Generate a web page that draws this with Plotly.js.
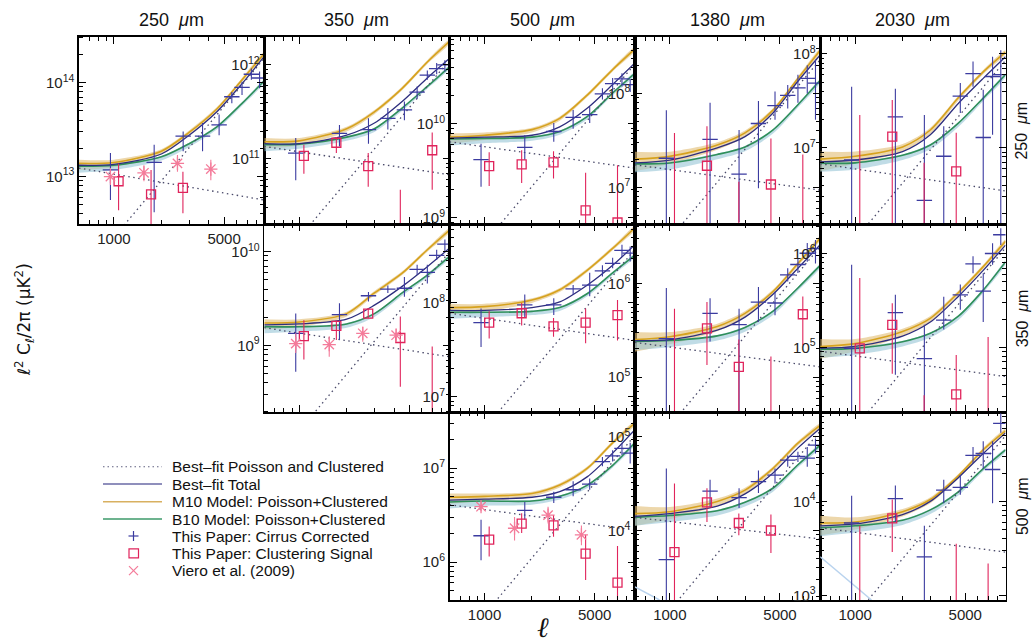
<!DOCTYPE html>
<html><head><meta charset="utf-8">
<script src="https://cdn.plot.ly/plotly-3.0.1.min.js"></script>
<style>html,body{margin:0;padding:0;background:#fff}#chart{width:1036px;height:643px}</style>
</head><body><div id="chart"></div>
<script>
// ---------- multipole grids (ell) ----------
const L_MODEL  = [600, 1000, 2000, 3000, 4500, 6500, 9000];
const L_CIRRUS = [950, 1800, 2750, 3650, 4650, 5600, 6500, 7450, 8400];
const L_SIGNAL = [1070, 1720, 2740, 4380, 6980];
const L_VIERO  = [950, 1550, 2530, 4120];
const L_ENDS   = [600, 9000];

// ---------- values, stored as log10 of l^2 C_l / 2pi (uK^2) ----------
// 250 x 250
const tot_250x250 = [13.12, 13.13, 13.24, 13.44, 13.69, 13.99, 14.28];
const m10_250x250 = [13.14, 13.15, 13.27, 13.47, 13.72, 14.03, 14.31];
const b10_250x250 = [13.11, 13.12, 13.21, 13.35, 13.53, 13.78, 14.02];
const poi_250x250 = [11.91, 14.26];
const clu_250x250 = [13.09, 12.75];
const cir_250x250   = [13.07, 13.15, 13.43, 13.43, 13.55, 13.85, 13.95, 14.09, 14.05];
const cirHi_250x250 = [13.25, 13.34, 13.48, 13.57, 13.66, 13.90, 14.01, 14.15, 14.12];
const cirLo_250x250 = [12.75, 12.62, 13.27, 13.27, 13.44, 13.78, 13.87, 14.03, 13.94];
const sig_250x250   = [12.95, 12.81, 12.88, null, null];
const sigHi_250x250 = [13.14, 13.07, 13.05, null, null];
const sigLo_250x250 = [12.64, 12.30, 12.61, null, null];
const vie_250x250   = [13.00, 13.04, 13.14, 13.08];
const vieHi_250x250 = [13.09, 13.12, 13.23, 13.18];
const vieLo_250x250 = [12.91, 12.95, 13.05, 12.96];
// 350 x 250
const tot_350x250 = [11.16, 11.16, 11.25, 11.38, 11.61, 11.86, 12.07];
const m10_350x250 = [11.18, 11.19, 11.32, 11.50, 11.75, 12.03, 12.25];
const b10_350x250 = [11.15, 11.155, 11.23, 11.32, 11.54, 11.77, 11.98];
const poi_350x250 = [9.72, 12.05];
const clu_350x250 = [11.13, 10.83];
const cir_350x250   = [11.06, 11.27, 11.31, 11.43, 11.52, 11.71, 11.89, 11.96, 12.00];
const cirHi_350x250 = [11.22, 11.36, 11.43, 11.54, 11.61, 11.77, 11.94, 12.02, 12.05];
const cirLo_350x250 = [10.77, 11.13, 11.16, 11.31, 11.41, 11.64, 11.84, 11.90, 11.93];
const sig_350x250   = [11.03, 11.17, 10.92, 10.10, 11.09];
const sigHi_350x250 = [11.15, 11.23, 11.06, 10.67, 11.28];
const sigLo_350x250 = [10.84, 11.06, 10.70, 9.90, 10.67];
// 500 x 250
const tot_500x250 = [9.85, 9.86, 9.88, 9.97, 10.17, 10.42, 10.65];
const m10_500x250 = [9.86, 9.88, 9.94, 10.06, 10.31, 10.58, 10.80];
const b10_500x250 = [9.84, 9.845, 9.86, 9.92, 10.08, 10.33, 10.54];
const poi_500x250 = [8.29, 10.64];
const clu_500x250 = [9.81, 9.53];
const cir_500x250   = [9.62, 9.75, 9.92, 10.07, 10.10, 10.32, 10.43, 10.48, 10.42];
const cirHi_500x250 = [9.79, 9.88, 10.01, 10.15, 10.18, 10.38, 10.49, 10.54, 10.48];
const cirLo_500x250 = [9.33, 9.62, 9.81, 9.95, 10.01, 10.26, 10.37, 10.40, 10.34];
const sig_500x250   = [9.55, 9.57, 9.59, 9.08, 8.95];
const sigHi_500x250 = [9.70, 9.72, 9.71, 9.48, 9.56];
const sigLo_500x250 = [9.34, 9.37, 9.42, 8.70, 8.60];
// 1380 x 250
const tot_1380x250 = [7.26, 7.29, 7.42, 7.54, 7.79, 8.13, 8.41];
const m10_1380x250 = [7.30, 7.33, 7.45, 7.58, 7.82, 8.16, 8.46];
const b10_1380x250 = [7.25, 7.26, 7.35, 7.43, 7.61, 7.88, 8.14];
const poi_1380x250 = [6.01, 8.36];
const clu_1380x250 = [7.24, 6.97];
const cir_1380x250   = [7.31, 7.51, 7.14, 7.68, 7.87, 7.98, 8.06, 8.16, 8.11];
const cirHi_1380x250 = [7.82, 7.90, 7.61, 7.92, 8.02, 8.09, 8.20, 8.30, 8.36];
const cirLo_1380x250 = [6.40, 6.62, 6.63, 6.99, 7.72, 7.84, 7.90, 8.00, 7.72];
const sig_1380x250   = [6.40, 7.23, 6.40, 7.03, 6.40];
const sigHi_1380x250 = [7.58, 7.65, 7.06, 7.52, 7.35];
const sigLo_1380x250 = [6.20, 6.55, 6.20, 6.20, 6.20];
// 2030 x 250
const tot_2030x250 = [6.85, 6.87, 6.96, 7.14, 7.47, 7.74, 7.97];
const m10_2030x250 = [6.88, 6.91, 7.01, 7.19, 7.53, 7.81, 8.02];
const b10_2030x250 = [6.835, 6.84, 6.92, 7.03, 7.26, 7.53, 7.78];
const poi_2030x250 = [5.58, 7.93];
const clu_2030x250 = [6.83, 6.54];
const cir_2030x250   = [6.87, 7.33, 6.44, 6.91, 7.55, 7.79, 7.11, 7.76, 7.78];
const cirHi_2030x250 = [7.65, 7.63, 7.35, 7.23, 7.69, 7.92, 7.62, 7.97, 8.04];
const cirLo_2030x250 = [6.00, 6.00, 6.00, 6.00, 7.37, 7.65, 6.00, 7.14, 6.00];
const sig_2030x250   = [6.00, 7.12, 6.00, 6.75, null];
const sigHi_2030x250 = [7.35, 7.51, 6.84, 7.16, null];
const sigLo_2030x250 = [5.80, 6.00, 5.80, 6.00, null];
// 350 x 350
const tot_350x350 = [9.22, 9.23, 9.28, 9.43, 9.63, 9.84, 10.04];
const m10_350x350 = [9.24, 9.25, 9.34, 9.56, 9.77, 10.02, 10.23];
const b10_350x350 = [9.20, 9.20, 9.23, 9.34, 9.56, 9.75, 9.95];
const poi_350x350 = [7.65, 10.00];
const clu_350x350 = [9.19, 8.88];
const cir_350x350   = [9.13, 9.33, 9.53, 9.60, 9.61, 9.81, 9.78, 9.96, 10.08];
const cirHi_350x350 = [9.34, 9.45, 9.57, 9.64, 9.73, 9.86, 9.86, 10.02, 10.13];
const cirLo_350x350 = [8.72, 9.06, 9.47, 9.56, 9.52, 9.75, 9.66, 9.91, 10.00];
const sig_350x350   = [9.10, 9.21, 9.34, 9.08, 8.10];
const sigHi_350x350 = [9.27, 9.27, 9.40, 9.31, 8.99];
const sigLo_350x350 = [8.85, 9.06, 9.29, 8.56, 7.90];
const vie_350x350   = [9.02, 9.01, 9.13, 9.11];
const vieHi_350x350 = [9.13, 9.10, 9.20, 9.18];
const vieLo_350x350 = [8.92, 8.88, 9.04, 9.04];
// 500 x 350
const tot_500x350 = [7.92, 7.92, 7.95, 8.01, 8.19, 8.40, 8.62];
const m10_500x350 = [7.95, 7.96, 8.03, 8.14, 8.35, 8.58, 8.80];
const b10_500x350 = [7.90, 7.90, 7.91, 7.95, 8.10, 8.32, 8.51];
const poi_500x350 = [6.22, 8.57];
const clu_500x350 = [7.89, 7.60];
const cir_500x350   = [7.79, 7.98, 7.98, 8.15, 8.19, 8.34, 8.42, 8.56, 8.53];
const cirHi_500x350 = [7.94, 8.09, 8.05, 8.19, 8.32, 8.40, 8.48, 8.62, 8.60];
const cirLo_500x350 = [7.53, 7.84, 7.87, 8.09, 8.07, 8.28, 8.37, 8.49, 8.44];
const sig_500x350   = [7.79, 7.89, 7.75, 7.79, 7.87];
const sigHi_500x350 = [7.91, 8.00, 7.84, 7.94, 8.03];
const sigLo_500x350 = [7.62, 7.76, 7.64, 7.57, 7.60];
// 1380 x 350
const tot_1380x350 = [5.39, 5.40, 5.50, 5.64, 5.88, 6.16, 6.41];
const m10_1380x350 = [5.40, 5.43, 5.54, 5.68, 5.91, 6.21, 6.48];
const b10_1380x350 = [5.38, 5.39, 5.44, 5.53, 5.70, 5.95, 6.19];
const poi_1380x350 = [4.04, 6.39];
const clu_1380x350 = [5.37, 5.11];
const cir_1380x350   = [5.41, 5.68, 5.56, 5.80, 5.79, 6.09, 6.20, 6.32, 6.37];
const cirHi_1380x350 = [5.95, 5.84, 5.73, 5.96, 5.91, 6.16, 6.27, 6.43, 6.46];
const cirLo_1380x350 = [4.40, 5.38, 4.40, 5.59, 5.66, 6.02, 6.11, 6.23, 6.21];
const sig_1380x350   = [4.40, 5.52, 5.11, 4.40, 5.67];
const sigHi_1380x350 = [5.73, 5.80, 5.40, 5.22, 5.86];
const sigLo_1380x350 = [4.20, 5.13, 4.40, 4.20, 5.34];
// 2030 x 350
const tot_2030x350 = [4.99, 5.01, 5.12, 5.27, 5.54, 5.82, 6.09];
const m10_2030x350 = [5.01, 5.04, 5.17, 5.31, 5.58, 5.86, 6.13];
const b10_2030x350 = [4.98, 4.99, 5.06, 5.15, 5.33, 5.61, 5.91];
const poi_2030x350 = [3.70, 6.06];
const clu_2030x350 = [4.96, 4.69];
const cir_2030x350   = [4.99, 5.37, 4.88, 5.29, 5.56, 5.89, 5.60, 6.00, 6.20];
const cirHi_2030x350 = [5.88, 5.56, 5.24, 5.54, 5.67, 5.97, 5.79, 6.11, 6.27];
const cirLo_2030x350 = [4.00, 4.71, 4.00, 5.19, 5.40, 5.79, 5.27, 5.88, 6.09];
const sig_2030x350   = [4.99, 5.24, 4.10, 4.50, 4.10];
const sigHi_2030x350 = [5.74, 5.47, 4.49, 4.92, 5.11];
const sigLo_2030x350 = [4.00, 4.72, 3.90, 4.00, 3.90];
// 500 x 500
const tot_500x500 = [6.66, 6.67, 6.69, 6.75, 6.91, 7.16, 7.41];
const m10_500x500 = [6.69, 6.70, 6.73, 6.82, 7.00, 7.27, 7.48];
const b10_500x500 = [6.64, 6.65, 6.65, 6.70, 6.82, 7.03, 7.27];
const poi_500x500 = [5.00, 7.35];
const clu_500x500 = [6.61, 6.34];
const cir_500x500   = [6.28, 6.55, 6.69, 6.77, 6.83, 7.07, 7.13, 7.21, 7.16];
const cirHi_500x500 = [6.45, 6.64, 6.75, 6.86, 6.89, 7.12, 7.19, 7.27, 7.27];
const cirLo_500x500 = [6.02, 6.45, 6.63, 6.70, 6.77, 7.02, 7.07, 7.14, 7.05];
const sig_500x500   = [6.24, 6.41, 6.39, 6.09, 5.78];
const sigHi_500x500 = [6.38, 6.52, 6.50, 6.29, 6.17];
const sigLo_500x500 = [6.06, 6.31, 6.27, 5.81, 5.40];
const vie_500x500   = [6.59, 6.36, 6.50, 6.29];
const vieHi_500x500 = [6.64, 6.48, 6.59, 6.39];
const vieLo_500x500 = [6.54, 6.23, 6.41, 6.18];
// 1380 x 500
const tot_1380x500 = [4.15, 4.18, 4.26, 4.39, 4.61, 4.88, 5.09];
const m10_1380x500 = [4.18, 4.20, 4.31, 4.43, 4.66, 4.93, 5.12];
const b10_1380x500 = [4.14, 4.16, 4.21, 4.30, 4.45, 4.70, 4.91];
const poi_1380x500 = [2.71, 5.06];
const clu_1380x500 = [4.14, 3.91];
const cir_1380x500   = [3.69, 4.42, 4.35, 4.52, 4.59, 4.75, 4.79, 4.77, 4.91];
const cirHi_1380x500 = [4.66, 4.54, 4.45, 4.64, 4.66, 4.80, 4.84, 4.89, 4.98];
const cirLo_1380x500 = [3.00, 4.25, 4.24, 4.40, 4.50, 4.68, 4.73, 4.68, 4.82];
const sig_1380x500   = [3.77, 4.30, 4.08, 4.00, null];
const sigHi_1380x500 = [4.50, 4.45, 4.18, 4.17, null];
const sigLo_1380x500 = [3.00, 4.09, 3.95, 3.76, null];
const L_FAINT_1380x500 = [600, 860];
const faint_1380x500   = [3.40, 3.26];
// 2030 x 500
const tot_2030x500 = [3.74, 3.76, 3.86, 4.00, 4.25, 4.51, 4.73];
const m10_2030x500 = [3.77, 3.78, 3.89, 4.02, 4.27, 4.55, 4.75];
const b10_2030x500 = [3.72, 3.74, 3.80, 3.91, 4.10, 4.35, 4.55];
const poi_2030x500 = [2.34, 4.70];
const clu_2030x500 = [3.72, 3.46];
const cir_2030x500   = [3.77, 4.03, 3.41, 4.12, 4.15, 4.49, 4.51, 4.34, 4.83];
const cirHi_2030x500 = [4.06, 4.17, 3.74, 4.23, 4.28, 4.58, 4.64, 4.64, 4.94];
const cirLo_2030x500 = [2.80, 3.78, 2.80, 3.98, 4.07, 4.41, 4.35, 3.98, 4.73];
const sig_2030x500   = [2.80, 3.82, null, 2.80, 2.80];
const sigHi_2030x500 = [3.74, 4.02, null, 3.55, 3.34];
const sigLo_2030x500 = [2.60, 3.46, null, 2.60, 2.60];
const L_FAINT_2030x500 = [600, 1270];
const faint_2030x500   = [3.41, 2.95];

// model uncertainty band half-widths (dex) on the L_MODEL grid
const M10_UP_BLAST = [0.04, 0.03, 0.02, 0.02, 0.02, 0.02, 0.02];
const M10_DN_BLAST = [0.07, 0.05, 0.03, 0.025, 0.02, 0.02, 0.02];
const M10_UP_ACT   = [0.08, 0.05, 0.03, 0.025, 0.02, 0.02, 0.02];
const M10_DN_ACT   = [0.13, 0.08, 0.05, 0.04, 0.03, 0.025, 0.02];
const B10_UP_BLAST = [0.015, 0.01, 0.01, 0.01, 0.01, 0.01, 0.01];
const B10_DN_BLAST = [0.07, 0.05, 0.04, 0.035, 0.03, 0.025, 0.02];
const B10_UP_ACT   = [0.02, 0.015, 0.01, 0.01, 0.01, 0.01, 0.01];
const B10_DN_ACT   = [0.09, 0.07, 0.05, 0.045, 0.04, 0.03, 0.025];

// ---------- labels ----------
const COL_TITLES = ['250', '350', '500', '1380', '2030'];
const ROW_TITLES = ['250', '350', '500'];
const LEGEND_TEXT = ['Best\u2013fit Poisson and Clustered', 'Best\u2013fit Total',
  'M10 Model: Poisson+Clustered', 'B10 Model: Poisson+Clustered',
  'This Paper: Cirrus Corrected', 'This Paper: Clustering Signal', 'Viero et al. (2009)'];

// ---------- build ----------
const W = 1036, H = 643;
const COLS = [79, 264.3, 449.6, 634.9, 820.2, 1005.5];
const ROWS = [36.7, 224.4, 412.2, 600];
const C_TOT = '#2e2e7e', C_M10 = '#d6a21e', C_B10 = '#2f8f5a', C_DOT = '#4a4a6a';
const C_CIR = '#3b3ba0', C_SIG = '#e0245c', C_VIE = '#f47b9a', C_FAINT = '#b9d3ee';
const FONT = 'Liberation Sans, Arial, Helvetica, sans-serif';

const PANELS = [
  {id: '250x250',  r: 0, c: 0, yr: [12.49, 14.49], xl: true,  grp: 'blast'},
  {id: '350x250',  r: 0, c: 1, yr: [10.30, 12.30], xl: false, grp: 'blast'},
  {id: '500x250',  r: 0, c: 2, yr: [8.93, 10.93],  xl: false, grp: 'blast'},
  {id: '1380x250', r: 0, c: 3, yr: [6.605, 8.605], xl: false, grp: 'act'},
  {id: '2030x250', r: 0, c: 4, yr: [6.184, 8.184], xl: false, grp: 'act'},
  {id: '350x350',  r: 1, c: 1, yr: [8.29, 10.29],  xl: false, grp: 'blast'},
  {id: '500x350',  r: 1, c: 2, yr: [6.836, 8.836], xl: false, grp: 'blast'},
  {id: '1380x350', r: 1, c: 3, yr: [4.627, 6.627], xl: false, grp: 'act'},
  {id: '2030x350', r: 1, c: 4, yr: [4.31, 6.31],   xl: false, grp: 'act'},
  {id: '500x500',  r: 2, c: 2, yr: [5.596, 7.596], xl: true,  grp: 'blast'},
  {id: '1380x500', r: 2, c: 3, yr: [3.26, 5.26],   xl: true,  grp: 'act'},
  {id: '2030x500', r: 2, c: 4, yr: [2.95, 4.95],   xl: true,  grp: 'act'}
];

function arr(name, id) { try { return eval(name + '_' + id); } catch (e) { return null; } }

const P = v => (v == null ? null : Math.pow(10, v));
const px = x => x / W, py = y => 1 - y / H;

const data = [];
const layout = {
  width: W, height: H, margin: {l: 0, r: 0, t: 0, b: 0},
  paper_bgcolor: '#fff', plot_bgcolor: '#fff', showlegend: false,
  font: {family: FONT, color: '#222'},
  annotations: [], shapes: []
};

function yTicks(r) {
  const major = [], text = [], minor = [];
  for (let n = Math.floor(r[0]); n <= Math.ceil(r[1]); n++) {
    if (n > r[0] + 0.01 && n < r[1] - 0.01) { major.push(Math.pow(10, n)); text.push('10<sup>' + n + '</sup>'); }
    for (let m = 2; m <= 9; m++) {
      const v = n + Math.log10(m);
      if (v > r[0] + 0.01 && v < r[1] - 0.01) minor.push(m * Math.pow(10, n));
    }
  }
  return {major, text, minor};
}

function errY(v, lo, hi, color) {
  return {type: 'data', symmetric: false, color: color, thickness: 1.1, width: 0,
    array: v.map((y, i) => (y == null ? null : P(hi[i]) - P(y))),
    arrayminus: v.map((y, i) => (y == null ? null : P(y) - P(lo[i])))};
}

PANELS.forEach((p, i) => {
  const sx = i === 0 ? '' : String(i + 1);
  const xa = 'x' + sx, ya = 'y' + sx;
  const base = {xaxis: xa, yaxis: ya, hoverinfo: 'skip', showlegend: false};
  const tot = arr('tot', p.id), m10 = arr('m10', p.id), b10 = arr('b10', p.id);
  const poi = arr('poi', p.id), clu = arr('clu', p.id);
  const cir = arr('cir', p.id), cirLo = arr('cirLo', p.id), cirHi = arr('cirHi', p.id);
  const sig = arr('sig', p.id), sigLo = arr('sigLo', p.id), sigHi = arr('sigHi', p.id);
  const vie = arr('vie', p.id), vieLo = arr('vieLo', p.id), vieHi = arr('vieHi', p.id);
  const faint = arr('faint', p.id), lFaint = arr('L_FAINT', p.id);
  const act = p.grp === 'act';
  const mU = act ? M10_UP_ACT : M10_UP_BLAST, mD = act ? M10_DN_ACT : M10_DN_BLAST;
  const bU = act ? B10_UP_ACT : B10_UP_BLAST, bD = act ? B10_DN_ACT : B10_DN_BLAST;
  const xs = L_MODEL.concat(L_MODEL.slice().reverse());
  function band(c, up, dn, fill) {
    const yu = c.map((v, k) => P(v + up[k]));
    const yd = c.map((v, k) => P(v - dn[k])).reverse();
    data.push(Object.assign({}, base, {x: xs, y: yu.concat(yd), mode: 'lines', fill: 'toself',
      fillcolor: fill, line: {width: 0, shape: 'spline', smoothing: 0.8}}));
  }
  band(m10, mU, mD, 'rgba(226,190,120,0.62)');
  band(b10, bU, bD, 'rgba(150,196,214,0.6)');
  const line = (y, color, w) => data.push(Object.assign({}, base, {x: L_MODEL, y: y.map(P), mode: 'lines',
    line: {color: color, width: w, shape: 'spline', smoothing: 0.8}}));
  line(m10, C_M10, 1.6);
  line(b10, C_B10, 1.6);
  line(tot, C_TOT, 1.3);
  [poi, clu].forEach(y => data.push(Object.assign({}, base, {x: L_ENDS, y: y.map(P), mode: 'lines',
    line: {color: C_DOT, width: 1.3, dash: '1.5px,3.5px'}})));
  if (faint) data.push(Object.assign({}, base, {x: lFaint, y: faint.map(P), mode: 'lines',
    line: {color: C_FAINT, width: 1.5}}));
  data.push(Object.assign({}, base, {x: L_CIRRUS, y: cir.map(P), mode: 'markers',
    marker: {symbol: 'line-ew-open', size: 11, color: C_CIR, line: {color: C_CIR, width: 1.3}},
    error_y: errY(cir, cirLo, cirHi, C_CIR)}));
  data.push(Object.assign({}, base, {x: L_SIGNAL, y: sig.map(P), mode: 'markers',
    marker: {symbol: 'square-open', size: 9, color: C_SIG, line: {color: C_SIG, width: 1.3}},
    error_y: errY(sig, sigLo, sigHi, C_SIG)}));
  if (vie) data.push(Object.assign({}, base, {x: L_VIERO, y: vie.map(P), mode: 'markers',
    marker: {symbol: 'asterisk-open', size: 11, color: C_VIE, line: {color: C_VIE, width: 1.3}},
    error_y: errY(vie, vieLo, vieHi, C_VIE)}));

  const axBase = {showline: true, mirror: 'allticks', linecolor: '#000', linewidth: 1.6,
    ticks: 'inside', tickcolor: '#000', tickwidth: 1, showgrid: false, zeroline: false,
    fixedrange: true, tickfont: {family: FONT, size: 15, color: '#222'}};
  layout['xaxis' + sx] = Object.assign({}, axBase, {
    type: 'log', anchor: ya, range: [Math.log10(600), Math.log10(9000)],
    domain: [px(COLS[p.c]), px(COLS[p.c + 1])],
    tickmode: 'array', tickvals: [1000, 5000], ticktext: ['1000', '5000'], ticklen: 7,
    showticklabels: p.xl,
    minor: {tickmode: 'array', tickvals: [700, 800, 900, 2000, 3000, 4000, 6000, 7000, 8000],
      ticklen: 4, ticks: 'inside', tickcolor: '#000', tickwidth: 1}
  });
  const yt = yTicks(p.yr);
  layout['yaxis' + sx] = Object.assign({}, axBase, {
    type: 'log', anchor: xa, range: p.yr,
    domain: [py(ROWS[p.r + 1]), py(ROWS[p.r])],
    tickmode: 'array', tickvals: yt.major, ticktext: yt.text, ticklen: 7,
    minor: {tickmode: 'array', tickvals: yt.minor, ticklen: 4, ticks: 'inside', tickcolor: '#000', tickwidth: 1}
  });
});

// column and row titles
COL_TITLES.forEach((t, c) => layout.annotations.push({xref: 'paper', yref: 'paper',
  x: px((COLS[c] + COLS[c + 1]) / 2), y: py(20), xanchor: 'center', yanchor: 'middle', showarrow: false,
  text: t + '\u00a0\u00a0<i>\u03bc</i>m', font: {family: FONT, size: 18, color: '#111'}}));
ROW_TITLES.forEach((t, r) => layout.annotations.push({xref: 'paper', yref: 'paper',
  x: px(1022), y: py((ROWS[r] + ROWS[r + 1]) / 2), xanchor: 'center', yanchor: 'middle', showarrow: false,
  textangle: -90, text: t + '\u00a0\u00a0<i>\u03bc</i>m', font: {family: FONT, size: 16, color: '#111'}}));
layout.annotations.push({xref: 'paper', yref: 'paper', x: px(24), y: py(320), xanchor: 'center', yanchor: 'middle',
  showarrow: false, textangle: -90,
  text: '\u2113<sup>2</sup> C<sub>\u2113</sub>/2\u03c0 (\u03bcK<sup>2</sup>)',
  font: {family: 'DejaVu Sans, ' + FONT, size: 17, color: '#111'}});
layout.annotations.push({xref: 'paper', yref: 'paper', x: px(543), y: py(627), xanchor: 'center', yanchor: 'middle',
  showarrow: false, text: '<i>\u2113</i>', font: {family: 'DejaVu Serif, serif', size: 28, color: '#111'}});

// legend (drawn by hand)
const LEG_Y = [466.7, 484, 501.7, 519, 536, 553.3, 570.7];
LEGEND_TEXT.forEach((t, k) => layout.annotations.push({xref: 'paper', yref: 'paper', x: px(170), y: py(LEG_Y[k]),
  xanchor: 'left', yanchor: 'middle', showarrow: false, text: t, font: {family: FONT, size: 15.5, color: '#111'}}));
const seg = (x0, y0, x1, y1, color, w, dash) => layout.shapes.push({type: 'line', xref: 'paper', yref: 'paper',
  x0: px(x0), y0: py(y0), x1: px(x1), y1: py(y1), line: {color: color, width: w, dash: dash || 'solid'}});
seg(103, LEG_Y[0], 162, LEG_Y[0], '#606080', 1.1, '1.5px,3px');
seg(103, LEG_Y[1], 162, LEG_Y[1], '#6a6aa6', 1.4);
seg(103, LEG_Y[2], 162, LEG_Y[2], '#d8b060', 1.6);
seg(103, LEG_Y[3], 162, LEG_Y[3], '#3d9a6a', 1.6);
seg(128.5, LEG_Y[4], 138.5, LEG_Y[4], C_CIR, 1.2);
seg(133.5, LEG_Y[4] - 5, 133.5, LEG_Y[4] + 5, C_CIR, 1.2);
layout.shapes.push({type: 'rect', xref: 'paper', yref: 'paper', x0: px(129), x1: px(138.5),
  y0: py(LEG_Y[5] - 4.5), y1: py(LEG_Y[5] + 4.5), line: {color: C_SIG, width: 1.2}});
seg(129, LEG_Y[6] - 4.5, 138, LEG_Y[6] + 4.5, C_VIE, 1.2);
seg(129, LEG_Y[6] + 4.5, 138, LEG_Y[6] - 4.5, C_VIE, 1.2);

Plotly.newPlot('chart', data, layout, {staticPlot: true, displayModeBar: false});
</script></body></html>
